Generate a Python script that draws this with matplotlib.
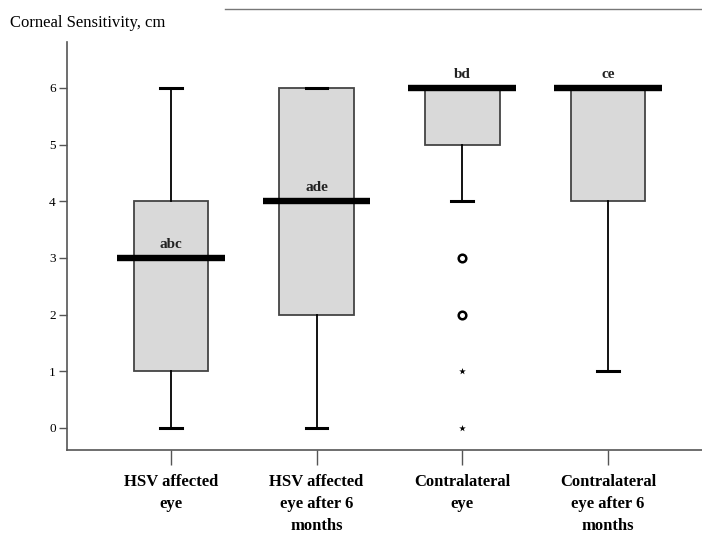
import matplotlib.pyplot as plt
from matplotlib.lines import Line2D

plt.rcParams['font.family'] = ['Liberation Serif', 'DejaVu Serif']

groups = ["HSV affected\neye", "HSV affected\neye after 6\nmonths",
          "Contralateral\neye", "Contralateral\neye after 6\nmonths"]
whislo = [0, 0, 4, 1]
q1 = [1, 2, 5, 4]
med = [3, 4, 6, 6]
q3 = [4, 6, 6, 6]
whishi = [6, 6, 6, 6]
letters = ["abc", "ade", "bd", "ce"]
# outliers of the contralateral eye group
circle_vals = [3, 2]
star_vals = [1, 0]

positions = [1, 2, 3, 4]

fig = plt.figure(figsize=(7.02, 5.4), dpi=100)
ax = fig.add_axes([0.0954, 0.1667, 0.9046, 0.7555])

stats = []
for i in range(4):
    stats.append(dict(whislo=whislo[i], q1=q1[i], med=med[i], q3=q3[i],
                      whishi=whishi[i], fliers=[]))

ax.bxp(stats, positions=positions, widths=0.51, patch_artist=True,
       showfliers=False,
       boxprops=dict(facecolor='#d9d9d9', edgecolor='#444444', linewidth=1.3),
       whiskerprops=dict(color='black', linewidth=1.3),
       capprops=dict(color='black', linewidth=2.2),
       capwidths=0.15,
       medianprops=dict(visible=False))

# thick median bars wider than the boxes
for p, m in zip(positions, med):
    ax.plot([p - 0.37, p + 0.37], [m, m], color='black', linewidth=4.6,
            solid_capstyle='butt', zorder=4)

for p, m, t in zip(positions, med, letters):
    ax.text(p, m + 0.13, t, ha='center', va='bottom', fontsize=11,
            fontweight='bold', color='#222222')

ax.scatter([3] * len(circle_vals), circle_vals, marker='o', s=30,
           facecolor='white', edgecolor='black', linewidth=1.8, zorder=5)
ax.scatter([3] * len(star_vals), star_vals, marker='*', s=25,
           color='black', linewidth=0, zorder=5)

ax.set_xlim(0.288, 4.644)
ax.set_ylim(-0.39, 6.81)
ax.set_yticks(range(7))
ax.set_xticks(positions)
ax.set_xticklabels(groups, fontsize=12, fontweight='bold', linespacing=1.5)
ax.tick_params(axis='x', length=11, width=1, color='#555555', pad=6)
ax.tick_params(axis='y', length=6, width=1, color='#555555', labelsize=9.5,
               pad=2)

for s in ['top', 'right']:
    ax.spines[s].set_visible(False)
for s in ['left', 'bottom']:
    ax.spines[s].set_color('#555555')
    ax.spines[s].set_linewidth(1.2)

fig.text(0.014, 0.958, "Corneal Sensitivity, cm", fontsize=12,
         ha='left', va='center')
fig.add_artist(Line2D([0.32, 1.0], [0.983, 0.983], color='#777777',
                      linewidth=1, transform=fig.transFigure))

fig.savefig("out.png", dpi=100)
